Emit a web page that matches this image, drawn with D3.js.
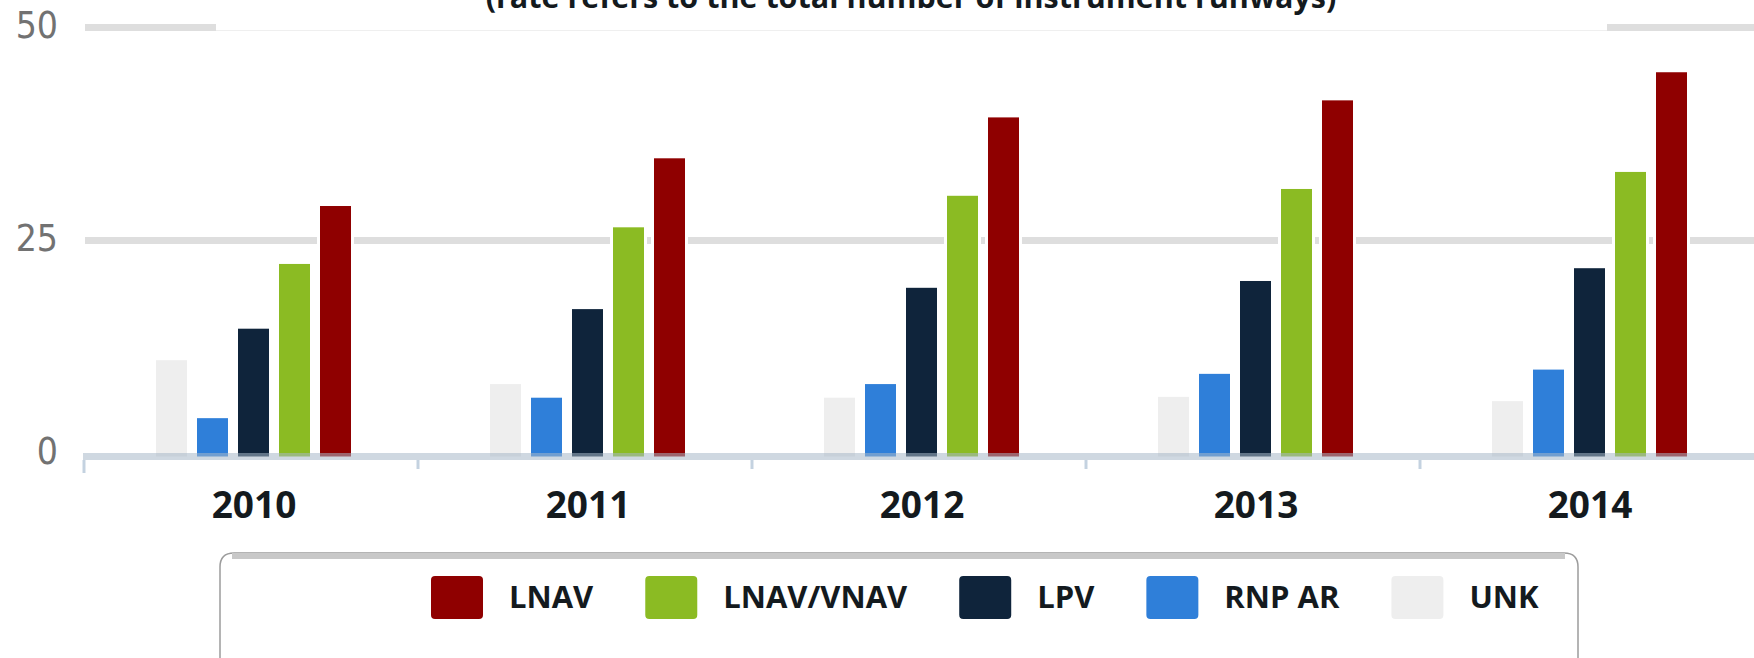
<!DOCTYPE html>
<html>
<head>
<meta charset="utf-8">
<script src="https://cdnjs.cloudflare.com/ajax/libs/d3/7.8.5/d3.min.js"></script>
<style>
  html, body { margin: 0; padding: 0; background: #ffffff; overflow: hidden; }
  .vis { width: 1754px; height: 658px; }
  text { font-family: "Open Sans", "Noto Sans", sans-serif; }
</style>
</head>
<body>
<div class="vis"></div>
<script>
var years = ["2010", "2011", "2012", "2013", "2014"];
var seriesNames = ["UNK", "RNP AR", "LPV", "LNAV/VNAV", "LNAV"];   // order inside each group
var legendNames = ["LNAV", "LNAV/VNAV", "LPV", "RNP AR", "UNK"];
var unkValues = [11.3, 8.5, 6.9, 7.0, 6.5];
var rnpArValues = [4.5, 6.9, 8.5, 9.7, 10.2];
var lpvValues = [15.0, 17.3, 19.8, 20.6, 22.1];
var lnavVnavValues = [22.6, 26.9, 30.6, 31.4, 33.4];
var lnavValues = [29.4, 35.0, 39.8, 41.8, 45.1];
var yTickValues = [0, 25, 50];
var titleText = "(rate refers to the total number of instrument runways)";

var chart = {

  elements: {},
  hold: {},

  setUp: function(){
    chart.hold.width = 1754;
    chart.hold.height = 658;
    chart.hold.values = {
      "UNK": unkValues,
      "RNP AR": rnpArValues,
      "LPV": lpvValues,
      "LNAV/VNAV": lnavVnavValues,
      "LNAV": lnavValues
    };
    chart.hold.colors = d3.scaleOrdinal()
      .domain(["LNAV", "LNAV/VNAV", "LPV", "RNP AR", "UNK"])
      .range(["#8f0000", "#8bbb23", "#0f243b", "#2f7fd9", "#eeeeee"]);

    chart.elements.svg = d3.select(".vis")
      .append("svg")
        .attr("width", chart.hold.width)
        .attr("height", chart.hold.height);

    chart.makeScales();
    chart.drawGrid();
    chart.drawTitle();
    chart.drawBars();
    chart.drawAxis();
    chart.drawLegend();
  },

  makeScales: function(){
    chart.hold.x0 = d3.scaleBand()
      .domain(years)
      .range([83, 1753]);
    // bars sit a bit right of the band centre, like the original
    chart.hold.x1 = d3.scaleBand()
      .domain(seriesNames)
      .range([73, 268])
      .paddingInner(10 / 41);
    chart.hold.y = d3.scaleLinear()
      .domain([0, 50])
      .range([456.5, 30.5]);
  },

  drawGrid: function(){
    var y = chart.hold.y;
    chart.elements.svg.append("g")
      .attr("class", "grid")
      .selectAll("rect")
      .data(yTickValues.filter(function(d){ return d > 0; }))
      .enter()
      .append("rect")
        .attr("x", 85)
        .attr("y", function(d){ return y(d) - 6.5; })
        .attr("width", chart.hold.width - 85)
        .attr("height", 7)
        .attr("fill", "#dedede");

    chart.elements.svg.append("g")
      .attr("class", "y-labels")
      .selectAll("text")
      .data(yTickValues)
      .enter()
      .append("text")
        .attr("x", 58)
        .attr("y", function(d){ return y(d) + 7; })
        .attr("text-anchor", "end")
        .style("font-family", "'Liberation Sans Narrow', 'DejaVu Sans Condensed', sans-serif")
        .style("font-size", "37px")
        .attr("fill", "#727272")
        .text(function(d){ return d; });
  },

  drawTitle: function(){
    // white title box covers the top grid line, leaving only its lower edge
    chart.elements.svg.append("rect")
      .attr("x", 216)
      .attr("y", 0)
      .attr("width", 1607 - 216)
      .attr("height", chart.hold.y(50))
      .attr("fill", "#ffffff");
    chart.elements.svg.append("text")
      .attr("x", 911)
      .attr("y", 8)
      .attr("text-anchor", "middle")
      .style("font-size", "30.5px")
      .style("font-weight", "700")
      .attr("fill", "#141a1e")
      .text(titleText);
  },

  drawBars: function(){
    var x0 = chart.hold.x0, x1 = chart.hold.x1, y = chart.hold.y;
    var groups = chart.elements.svg.append("g")
      .attr("class", "bars")
      .selectAll("g")
      .data(years)
      .enter()
      .append("g")
        .attr("transform", function(d){ return "translate(" + x0(d) + ",0)"; });

    var cells = groups.selectAll("g")
      .data(function(d, i){
        return seriesNames.map(function(s){
          return {name: s, value: chart.hold.values[s][i]};
        });
      })
      .enter()
      .append("g");

    // white halo round every bar
    cells.append("rect")
      .attr("x", function(d){ return x1(d.name) - 3; })
      .attr("y", function(d){ return y(d.value) - 3; })
      .attr("width", x1.bandwidth() + 6)
      .attr("height", function(d){ return y(0) - y(d.value) + 3; })
      .attr("fill", "#ffffff");

    cells.append("rect")
      .attr("x", function(d){ return x1(d.name); })
      .attr("y", function(d){ return y(d.value); })
      .attr("width", x1.bandwidth())
      .attr("height", function(d){ return y(0) - y(d.value); })
      .attr("fill", function(d){ return chart.hold.colors(d.name); });
  },

  drawAxis: function(){
    var x0 = chart.hold.x0, y = chart.hold.y;
    var svg = chart.elements.svg;

    svg.append("rect")
      .attr("x", 83)
      .attr("y", y(0) - 3.5)
      .attr("width", chart.hold.width - 83)
      .attr("height", 7)
      .attr("fill", "#a8b8c8")
      .attr("opacity", 0.55);

    svg.append("g")
      .attr("class", "ticks")
      .selectAll("line")
      .data(years)
      .enter()
      .append("line")
        .attr("x1", function(d){ return x0(d) + 1; })
        .attr("x2", function(d){ return x0(d) + 1; })
        .attr("y1", y(0) + 3.5)
        .attr("y2", function(d, i){ return i === 0 ? y(0) + 16.5 : y(0) + 12.5; })
        .attr("stroke", "#c4d2e0")
        .attr("stroke-width", 3);

    svg.append("g")
      .attr("class", "x-labels")
      .selectAll("text")
      .data(years)
      .enter()
      .append("text")
        .attr("x", function(d){ return x0(d) + 171; })
        .attr("y", 518)
        .attr("text-anchor", "middle")
        .style("font-size", "37px")
        .style("font-weight", "700")
        .attr("fill", "#141a1e")
        .text(function(d){ return d; });
  },

  drawLegend: function(){
    var svg = chart.elements.svg;
    var left = 220, right = 1578, top = 553, r = 14, bottom = 720;

    svg.append("path")
      .attr("d", "M" + left + "," + bottom +
        " L" + left + "," + (top + r) +
        " Q" + left + "," + top + " " + (left + r) + "," + top +
        " L" + (right - r) + "," + top +
        " Q" + right + "," + top + " " + right + "," + (top + r) +
        " L" + right + "," + bottom)
      .attr("fill", "#ffffff")
      .attr("stroke", "#9c9c9c")
      .attr("stroke-width", 1.5);
    svg.append("line")
      .attr("x1", left + 12)
      .attr("x2", right - 13)
      .attr("y1", top + 3)
      .attr("y2", top + 3)
      .attr("stroke", "#c8c8c8")
      .attr("stroke-width", 6);

    var items = svg.append("g")
      .attr("class", "legend")
      .selectAll("g")
      .data(legendNames)
      .enter()
      .append("g");

    items.append("rect")
      .attr("y", 576)
      .attr("width", 52)
      .attr("height", 43)
      .attr("rx", 4)
      .attr("fill", function(d){ return chart.hold.colors(d); });

    items.append("text")
      .attr("x", 78)
      .attr("y", 608)
      .style("font-size", "31px")
      .style("font-weight", "700")
      .attr("fill", "#141a1e")
      .text(function(d){ return d; });

    // lay the items out one after another
    var cursor = 431;
    items.each(function(){
      var g = d3.select(this);
      g.attr("transform", "translate(" + cursor + ",0)");
      cursor += 78 + g.select("text").node().getComputedTextLength() + 52;
    });
  }

};

chart.setUp();
</script>
</body>
</html>
